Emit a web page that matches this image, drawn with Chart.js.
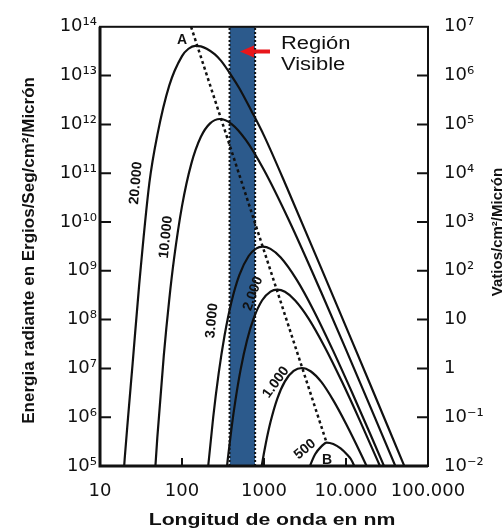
<!DOCTYPE html>
<html>
<head>
<meta charset="utf-8">
<script src="https://cdn.jsdelivr.net/npm/chart.js@4.4.1/dist/chart.umd.min.js"></script>
<style>
  html, body { margin: 0; padding: 0; background: #fff; }
  canvas { display: block; }
</style>
</head>
<body>
<canvas id="planck" width="504" height="528"></canvas>
<script>
// Wavelength (nm) and radiant energy (erg/s/cm²/µm)
const wl20000 = [19, 20, 22, 25, 30, 40, 50, 70, 100, 120, 145, 170, 200, 250, 300, 400, 500, 700, 1000, 2000, 5000, 10000, 20000, 50000, 100000];
const e20000 = [3.98e4, 1.41e5, 1.0e6, 1.26e7, 5.01e8, 6.31e10, 6.03e11, 6.31e12, 2.51e13, 3.55e13, 4.07e13, 3.98e13, 3.55e13, 2.75e13, 2.0e13, 1.0e13, 5.5e12, 1.91e12, 5.89e11, 4.17e10, 1.12e9, 7.08e7, 4.47e6, 1.12e5, 7.08e3];

const wl10000 = [45, 50, 60, 70, 80, 100, 130, 170, 220, 290, 400, 600, 1000, 2000, 5000, 10000, 20000, 50000, 100000];
const e10000 = [2.64e4, 3.81e5, 1.85e7, 2.64e8, 1.77e9, 2.11e10, 1.57e11, 5.56e11, 1.05e12, 1.29e12, 1.03e12, 4.81e11, 1.16e11, 1.11e10, 3.59e8, 2.42e7, 1.57e6, 4.1e4, 2.58e3];

const wl3000 = [190, 210, 240, 280, 330, 400, 500, 650, 800, 966, 1200, 1600, 2500, 4000, 7000, 12000, 20000, 35000];
const e3000 = [1.64e4, 1.10e5, 9.86e5, 7.92e6, 4.66e7, 2.27e8, 8.17e8, 2.01e9, 2.85e9, 3.13e9, 2.81e9, 1.87e9, 6.59e8, 1.58e8, 2.26e7, 3.06e6, 4.32e5, 4.85e4];

const wl2000 = [330, 360, 400, 450, 520, 620, 750, 950, 1200, 1450, 1800, 2400, 3500, 5500, 9000, 15000, 25000, 40000];
const e2000 = [3.25e4, 1.29e5, 5.65e5, 2.31e6, 9.66e6, 3.73e7, 1.07e8, 2.49e8, 3.75e8, 4.11e8, 3.71e8, 2.47e8, 1.05e8, 2.75e7, 5.18e6, 8.02e5, 1.15e5, 1.86e4];

const wl1000 = [880, 950, 1050, 1200, 1450, 1800, 2300, 2900, 3700, 5000, 7000, 10000, 15000, 22000, 30000];
const e1000 = [5.01e4, 1.14e5, 2.86e5, 7.94e5, 2.38e6, 5.43e6, 8.87e6, 1.02e7, 8.75e6, 5.28e6, 2.21e6, 7.35e5, 1.85e5, 4.63e4, 1.44e4];

const wl500 = [3100, 3640, 4200, 5000, 5800, 7000, 8600, 10500, 11400, 12600, 14000];
const e500 = [4.47e4, 1.0e5, 1.74e5, 2.51e5, 3.02e5, 2.82e5, 2.29e5, 1.66e5, 1.41e5, 1.0e5, 5.62e4];

// dotted line A-B through the maxima
const wienWl = [129, 5800];
const wienE = [1e14, 3.0e5];

// visible band edges (nm)
const visibleBand = [380, 780];

const xTicks = [10, 100, 1000, 10000, 100000];
const xTickLabels = ['10', '100', '1000', '10.000', '100.000'];
const yTicks = [1e5, 1e6, 1e7, 1e8, 1e9, 1e10, 1e11, 1e12, 1e13, 1e14];
const yTickLabels = ['10⁵', '10⁶', '10⁷', '10⁸', '10⁹', '10¹⁰', '10¹¹', '10¹²', '10¹³', '10¹⁴'];
const y2Ticks = [1e-2, 1e-1, 1, 10, 1e2, 1e3, 1e4, 1e5, 1e6, 1e7];
const y2TickLabels = ['10⁻²', '10⁻¹', '1', '10', '10²', '10³', '10⁴', '10⁵', '10⁶', '10⁷'];

const xTitle = 'Longitud de onda en nm';
const yTitle = 'Energia radiante en Ergios/Seg/cm²/Micrón';
const y2Title = 'Vatios/cm²/Micrón';

// curve names, placed in data units next to each curve
const curveNotes = [
  { text: '20.000', at: [27.5, 6.3e10], angle: -85 },
  { text: '10.000', at: [64, 4.9e9], angle: -84 },
  { text: '3.000', at: [232, 9.5e7], angle: -85 },
  { text: '2.000', at: [735, 3.4e8], angle: -70 },
  { text: '1.000', at: [1400, 5.2e6], angle: -54 },
  { text: '500', at: [3160, 2.2e5], angle: -40 }
];

const yMin = yTicks[0], yMax = yTicks[yTicks.length - 1];
const curve = (wl, e) => wl.map((x, i) => ({ x, y: e[i] }));
const solid = { borderColor: '#111', borderWidth: 2.2, pointRadius: 0, fill: false, cubicInterpolationMode: 'monotone', order: 0 };
const edge = (x) => ({
  data: [{ x, y: yMin }, { x, y: yMax }],
  borderColor: '#111', borderWidth: 2, borderDash: [2, 2], pointRadius: 0, fill: false, order: 5
});

const figureMarks = {
  id: 'figureMarks',
  afterDatasetsDraw(chart) {
    const { ctx, chartArea: a, scales: { x, y, y2 } } = chart;
    ctx.save();
    ctx.strokeStyle = '#111';
    ctx.fillStyle = '#111';

    // inward tick marks
    ctx.lineWidth = 2;
    ctx.beginPath();
    yTicks.slice(1, -1).forEach(v => {
      const p = y.getPixelForValue(v);
      ctx.moveTo(a.left, p); ctx.lineTo(a.left + 11, p);
    });
    y2Ticks.slice(1, -1).forEach(v => {
      const p = y2.getPixelForValue(v);
      ctx.moveTo(a.right, p); ctx.lineTo(a.right - 11, p);
    });
    xTicks.slice(1, -1).forEach(v => {
      const p = x.getPixelForValue(v);
      ctx.moveTo(p, a.bottom); ctx.lineTo(p, a.bottom - 8);
    });
    ctx.stroke();

    // frame: thin top/right, heavier left/bottom
    ctx.lineWidth = 2;
    ctx.strokeRect(a.left, a.top, a.right - a.left, a.bottom - a.top);
    ctx.lineWidth = 3;
    ctx.beginPath();
    ctx.moveTo(a.left, a.top); ctx.lineTo(a.left, a.bottom); ctx.lineTo(a.right, a.bottom);
    ctx.stroke();

    // curve names
    ctx.font = 'bold 14px "Liberation Sans", Arial, sans-serif';
    ctx.textAlign = 'center';
    ctx.textBaseline = 'middle';
    curveNotes.forEach(n => {
      ctx.save();
      ctx.translate(x.getPixelForValue(n.at[0]), y.getPixelForValue(n.at[1]));
      ctx.rotate(n.angle * Math.PI / 180);
      ctx.fillText(n.text, 0, 0);
      ctx.restore();
    });

    // A / B ends of the dotted line
    ctx.font = 'bold 14px "Liberation Sans", Arial, sans-serif';
    ctx.fillText('A', x.getPixelForValue(100), y.getPixelForValue(5.4e13));
    ctx.fillText('B', x.getPixelForValue(5860), y.getPixelForValue(1.3e5));

    // red arrow pointing at the visible band
    const tipX = x.getPixelForValue(509), tailX = x.getPixelForValue(1183), ay = y.getPixelForValue(3.1e13);
    ctx.fillStyle = '#e8161b';
    ctx.beginPath();
    ctx.moveTo(tipX, ay);
    ctx.lineTo(tipX + 14, ay - 6);
    ctx.lineTo(tipX + 14, ay - 2);
    ctx.lineTo(tailX, ay - 2);
    ctx.lineTo(tailX, ay + 2);
    ctx.lineTo(tipX + 14, ay + 2);
    ctx.lineTo(tipX + 14, ay + 6);
    ctx.closePath();
    ctx.fill();

    // "Región Visible"
    ctx.fillStyle = '#111';
    ctx.font = '18px "Liberation Sans", Arial, sans-serif';
    ctx.textAlign = 'left';
    const rx = x.getPixelForValue(1610), ry = y.getPixelForValue(4.47e13);
    ctx.save();
    ctx.translate(rx, ry);
    ctx.scale(1.22, 1);
    ctx.fillText('Región', 0, 0);
    ctx.fillText('Visible', 0, 21);
    ctx.restore();

    // axis titles
    ctx.textAlign = 'center';
    ctx.font = 'bold 17px "Liberation Sans", Arial, sans-serif';
    ctx.save();
    ctx.translate(a.left + 8 + (a.right - a.left) / 2, a.bottom + 54);
    ctx.scale(1.25, 1);
    ctx.fillText(xTitle, 0, 0);
    ctx.restore();

    ctx.save();
    ctx.translate(a.left - 71, (a.top + a.bottom) / 2 + 4);
    ctx.rotate(-Math.PI / 2);
    ctx.fillText(yTitle, 0, 0);
    ctx.restore();

    ctx.font = 'bold 15px "Liberation Sans", Arial, sans-serif';
    ctx.save();
    ctx.translate(a.right + 70, 232);
    ctx.rotate(-Math.PI / 2);
    ctx.fillText(y2Title, 0, 0);
    ctx.restore();

    ctx.restore();
  }
};

const tickFont = { family: 'DejaVu Sans', size: 18 };

new Chart(document.getElementById('planck'), {
  type: 'line',
  data: {
    datasets: [
      { ...solid, data: curve(wl20000, e20000) },
      { ...solid, data: curve(wl10000, e10000) },
      { ...solid, data: curve(wl3000, e3000) },
      { ...solid, data: curve(wl2000, e2000) },
      { ...solid, data: curve(wl1000, e1000) },
      { ...solid, data: curve(wl500, e500) },
      {
        data: curve(wienWl, wienE),
        borderColor: '#111', borderWidth: 2.5, borderDash: [3, 3], pointRadius: 0, fill: false, order: 1
      },
      edge(visibleBand[0]),
      edge(visibleBand[1]),
      {
        data: visibleBand.map(x => ({ x, y: yMax })),
        backgroundColor: '#2c5a8c', borderWidth: 0, pointRadius: 0, fill: 'start', order: 10
      }
    ]
  },
  options: {
    responsive: false,
    animation: false,
    layout: { padding: { top: 25, left: 0, right: 0, bottom: 0 } },
    plugins: { legend: { display: false }, tooltip: { enabled: false } },
    scales: {
      x: {
        type: 'logarithmic', position: 'bottom', min: 10, max: 100000,
        afterBuildTicks: s => { s.ticks = xTicks.map(v => ({ value: v })); },
        afterFit: s => { s.height = 62; },
        grid: { display: false, drawTicks: false },
        border: { display: false },
        ticks: { callback: (v, i) => xTickLabels[i], font: tickFont, color: '#111', padding: 15, maxRotation: 0, autoSkip: false }
      },
      y: {
        type: 'logarithmic', position: 'left', min: yMin, max: yMax,
        afterBuildTicks: s => { s.ticks = yTicks.map(v => ({ value: v })); },
        afterFit: s => { s.width = 100; },
        grid: { display: false, drawTicks: false },
        border: { display: false },
        ticks: { callback: (v, i) => yTickLabels[i], font: tickFont, color: '#111', padding: 3, autoSkip: false }
      },
      y2: {
        type: 'logarithmic', position: 'right', min: y2Ticks[0], max: y2Ticks[y2Ticks.length - 1],
        afterBuildTicks: s => { s.ticks = y2Ticks.map(v => ({ value: v })); },
        afterFit: s => { s.width = 76; },
        grid: { display: false, drawTicks: false },
        border: { display: false },
        ticks: { callback: (v, i) => y2TickLabels[i], font: tickFont, color: '#111', padding: 16, autoSkip: false }
      }
    }
  },
  plugins: [figureMarks]
});
</script>
</body>
</html>
